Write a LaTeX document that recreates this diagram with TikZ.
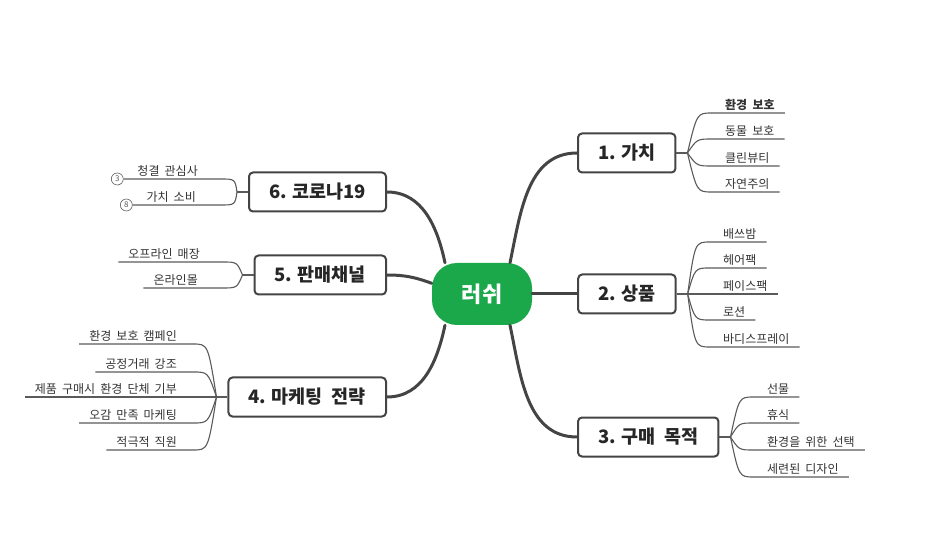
\documentclass[tikz,border=0pt]{standalone}
\usepackage{fontspec}
\setmainfont{Noto Sans CJK KR}
\newfontfamily\leaffamily{Noto Sans CJK KR}[WordSpace=1.9]
\usetikzlibrary{calc, positioning}
\definecolor{lushgreen}{HTML}{1BA84A}
\definecolor{branchgray}{HTML}{444444}
\definecolor{twiggray}{HTML}{5A5A5A}
\tikzstyle{root} = [rectangle, rounded corners=25pt, minimum width=100pt, minimum height=62pt, fill=lushgreen, text=white, font=\bfseries\fontsize{22}{26}\selectfont]
\tikzstyle{topic} = [rectangle, rounded corners=4pt, minimum height=39pt, inner xsep=20pt, draw=branchgray, line width=2pt, fill=white, text=black!85, font=\bfseries\fontsize{18.5}{22}\selectfont]
\tikzstyle{leaf} = [inner xsep=0pt, inner ysep=2.5pt, text=black!80, font=\leaffamily\fontsize{12}{14}\selectfont]
\tikzstyle{num} = [circle, draw=twiggray, line width=0.6pt, minimum size=12pt, inner sep=0pt, text=twiggray, font=\fontsize{8}{9}\selectfont]
\tikzstyle{branch} = [line width=3pt, draw=branchgray, line cap=round]
\tikzstyle{twig} = [line width=1.1pt, draw=twiggray]
\tikzset{fan/.style={to path={.. controls ($(\tikztotarget)+(#1,0)$) .. (\tikztotarget)}}}

\begin{document}
\begin{tikzpicture}[x=1pt, y=-1pt]
    \useasboundingbox (0,0) rectangle (951,545);

    % Central idea
    \node (lush) [root] at (482,294) {러쉬};

    % Topics (right)
    \node (g1) [topic, anchor=west] at (577,153) {1. 가치};
    \node (g2) [topic, right=45pt of lush] {2. 상품};
    \node (g3) [topic, anchor=west] at (577,437) {3. 구매\hspace{9pt}목적};

    % Topics (left)
    \node (g6) [topic, anchor=east] at (387,192) {6. 코로나19};
    \node (g5) [topic, anchor=east] at (387,275) {5. 판매채널};
    \node (g4) [topic, anchor=east] at (387,397) {4. 마케팅\hspace{9pt}전략};

    % Branches
    \draw [branch] ([xshift=28pt]lush.north) to[out=78, in=180] (g1.west);
    \draw [branch] (lush.east) -- (g2.west);
    \draw [branch] ([xshift=28pt]lush.south) to[out=-78, in=180] (g3.west);
    \draw [branch] ([xshift=-37pt]lush.north) to[out=102, in=0] (g6.east);
    \draw [branch] (lush.168) to[out=160, in=0] (g5.east);
    \draw [branch] ([xshift=-37pt]lush.south) to[out=-102, in=0] (g4.east);

    % 1. value
    \coordinate [right=11pt of g1] (f1);
    \draw [twig] (g1) -- (f1);
    \node (v11) [leaf, font=\leaffamily\bfseries\fontsize{12}{14}\selectfont, anchor=south west] at (725,113) {환경 보호};
    \node (v12) [leaf, anchor=south west] at (725,139) {동물 보호};
    \node (v13) [leaf, anchor=south west] at (725,166) {클린뷰티};
    \node (v14) [leaf, anchor=south west] at (725,192) {자연주의};
    \draw [twig] (f1) to[fan=-15] ([xshift=-13pt]v11.south west) -- ([xshift=10pt]v11.south east);
    \draw [twig] (f1) to[fan=-15] ([xshift=-13pt]v12.south west) -- ([xshift=10pt]v12.south east);
    \draw [twig] (f1) to[fan=-15] ([xshift=-13pt]v13.south west) -- ([xshift=10pt]v13.south east);
    \draw [twig] (f1) to[fan=-15] ([xshift=-13pt]v14.south west) -- ([xshift=10pt]v14.south east);

    % 2. products
    \coordinate [right=11pt of g2] (f2);
    \draw [twig] (g2) -- (f2);
    \node (v21) [leaf, anchor=south west] at (723,242) {배쓰밤};
    \node (v22) [leaf, anchor=south west] at (723,268) {헤어팩};
    \node (v23) [leaf, anchor=south west] at (723,294) {페이스팩};
    \node (v24) [leaf, anchor=south west] at (723,320) {로션};
    \node (v25) [leaf, anchor=south west] at (723,347) {바디스프레이};
    \draw [twig] (f2) to[fan=-15] ([xshift=-13pt]v21.south west) -- ([xshift=10pt]v21.south east);
    \draw [twig] (f2) to[fan=-15] ([xshift=-13pt]v22.south west) -- ([xshift=10pt]v22.south east);
    \draw [twig] (f2) to[fan=-15] ([xshift=-13pt]v23.south west) -- ([xshift=10pt]v23.south east);
    \draw [twig] (f2) to[fan=-15] ([xshift=-13pt]v24.south west) -- ([xshift=10pt]v24.south east);
    \draw [twig] (f2) to[fan=-15] ([xshift=-13pt]v25.south west) -- ([xshift=10pt]v25.south east);

    % 3. purchase
    \coordinate [right=11pt of g3] (f3);
    \draw [twig] (g3) -- (f3);
    \node (v31) [leaf, anchor=south west] at (767,397) {선물};
    \node (v32) [leaf, anchor=south west] at (767,423) {휴식};
    \node (v33) [leaf, anchor=south west] at (767,450) {환경을 위한 선택};
    \node (v34) [leaf, anchor=south west] at (767,477) {세련된 디자인};
    \draw [twig] (f3) to[fan=-15] ([xshift=-13pt]v31.south west) -- ([xshift=10pt]v31.south east);
    \draw [twig] (f3) to[fan=-15] ([xshift=-13pt]v32.south west) -- ([xshift=10pt]v32.south east);
    \draw [twig] (f3) to[fan=-15] ([xshift=-13pt]v33.south west) -- ([xshift=10pt]v33.south east);
    \draw [twig] (f3) to[fan=-15] ([xshift=-13pt]v34.south west) -- ([xshift=10pt]v34.south east);

    % 6. corona
    \coordinate [left=11pt of g6] (f6);
    \draw [twig] (g6) -- (f6);
    \node (v61) [leaf, anchor=south east] at (198,179) {청결 관심사};
    \node (v62) [leaf, anchor=south east] at (196,205) {가치 소비};
    \node (n3) [num] at ([xshift=-20pt]v61.south west) {3};
    \node (n8) [num] at ([xshift=-20pt]v62.south west) {8};
    \draw [twig] (f6) to[fan=15] ([xshift=22pt]v61.south east) -- (n3);
    \draw [twig] (f6) to[fan=15] ([xshift=24pt]v62.south east) -- (n8);

    % 5. channels
    \coordinate [left=11pt of g5] (f5);
    \draw [twig] (g5) -- (f5);
    \node (v51) [leaf, anchor=south east] at (200,262) {오프라인 매장};
    \node (v52) [leaf, anchor=south east] at (198,288) {온라인몰};
    \draw [twig] (f5) to[fan=15] ([xshift=22pt]v51.south east) -- ([xshift=-10pt]v51.south west);
    \draw [twig] (f5) to[fan=15] ([xshift=24pt]v52.south east) -- ([xshift=-10pt]v52.south west);

    % 4. marketing
    \coordinate [left=11pt of g4] (f4);
    \draw [twig] (g4) -- (f4);
    \node (v41) [leaf, anchor=south east] at (177,344) {환경 보호 캠페인};
    \node (v42) [leaf, anchor=south east] at (177,372) {공정거래 강조};
    \node (v43) [leaf, anchor=south east] at (177,397) {제품 구매시 환경 단체 기부};
    \node (v44) [leaf, anchor=south east] at (177,423) {오감 만족 마케팅};
    \node (v45) [leaf, anchor=south east] at (177,450) {적극적 직원};
    \draw [twig] (f4) to[fan=15] ([xshift=16pt]v41.south east) -- ([xshift=-10pt]v41.south west);
    \draw [twig] (f4) to[fan=15] ([xshift=16pt]v42.south east) -- ([xshift=-10pt]v42.south west);
    \draw [twig] (f4) to[fan=15] ([xshift=16pt]v43.south east) -- ([xshift=-10pt]v43.south west);
    \draw [twig] (f4) to[fan=15] ([xshift=16pt]v44.south east) -- ([xshift=-10pt]v44.south west);
    \draw [twig] (f4) to[fan=15] ([xshift=16pt]v45.south east) -- ([xshift=-10pt]v45.south west);

\end{tikzpicture}
\end{document}
